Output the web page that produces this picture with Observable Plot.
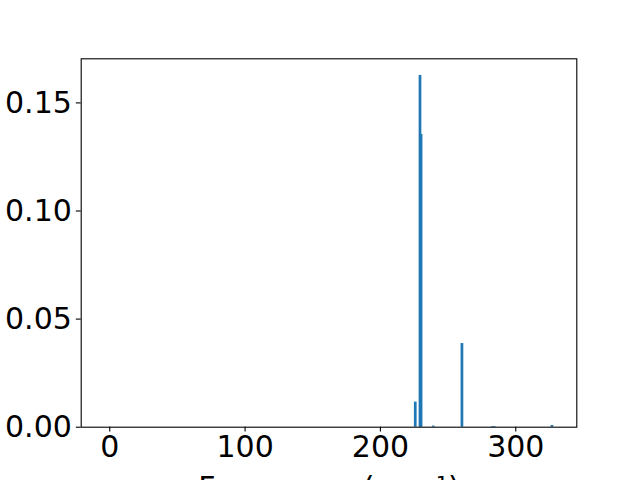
<!DOCTYPE html>
<html>
<head>
<meta charset="utf-8">
<script src="https://cdn.jsdelivr.net/npm/d3@7"></script>
<script src="https://cdn.jsdelivr.net/npm/@observablehq/plot@0.6"></script>
<style>
  html, body { margin: 0; padding: 0; background: white; overflow: hidden; }
  #chart svg { overflow: visible; }
</style>
</head>
<body>
<div id="chart"></div>
<script>
const frequencies = [226.1, 229.6, 230.4, 239.4, 260.6, 283.0, 284.5, 327.1];
const intensities = [0.0116, 0.1627, 0.1354, 0.0005, 0.0387, 0.0003, 0.0003, 0.0008];
const xTicks = [0, 100, 200, 300];
const yTicks = [0, 0.05, 0.10, 0.15];
const xLabel = "Frequency (cm\u207B\u00B9)";

const bars = frequencies.map((f, i) => ({freq: f, intensity: intensities[i]}));
const halfWidth = 1;
const fs = 30;

const chart = Plot.plot({
  width: 640,
  height: 480,
  marginLeft: 80.7,
  marginRight: 63.7,
  marginTop: 58.3,
  marginBottom: 53.3,
  style: {fontFamily: "DejaVu Sans", fontSize: fs + "px", color: "black", background: "white"},
  x: {domain: [-21.1, 345.1], label: null},
  y: {domain: [0, 0.1704], label: null},
  marks: [
    Plot.rectY(bars, {x1: d => d.freq - halfWidth, x2: d => d.freq + halfWidth, y1: 0, y2: "intensity", fill: "#1f77b4", insetLeft: 0, insetRight: 0}),
    Plot.axisX({ticks: xTicks, tickFormat: d => String(d), tickSize: 4.9, tickPadding: 3.5, strokeWidth: 1.1, fontSize: fs, label: null}),
    Plot.axisY({ticks: yTicks, tickFormat: d3.format(".2f"), tickSize: 4.9, tickPadding: 4.5, strokeWidth: 1.1, fontSize: fs, label: null}),
    Plot.frame({stroke: "black", strokeWidth: 1.1}),
    Plot.text([xLabel], {text: d => d, frameAnchor: "bottom", dy: 71, fontSize: fs, fill: "black"})
  ]
});
document.getElementById("chart").appendChild(chart);
</script>
</body>
</html>
